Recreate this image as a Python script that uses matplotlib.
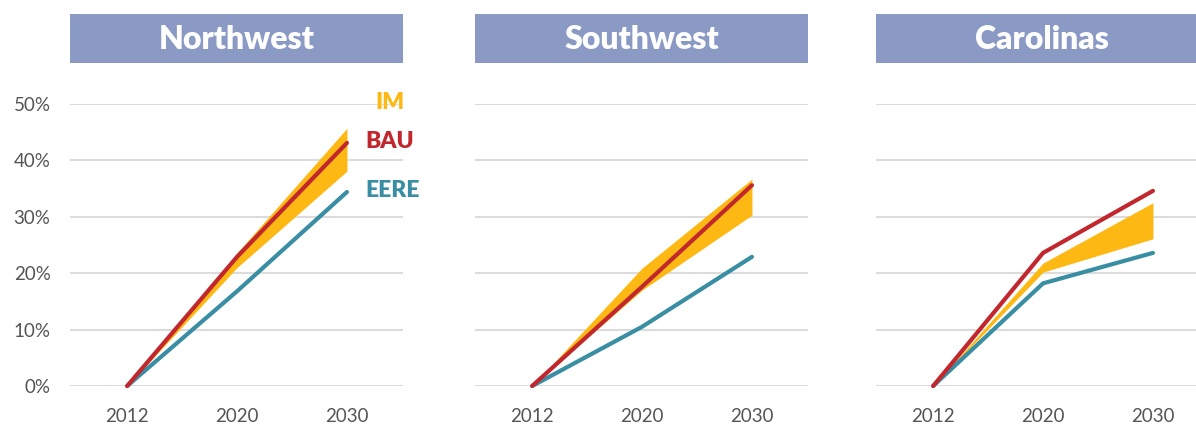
import matplotlib
matplotlib.use('Agg')
import matplotlib.pyplot as plt

# data (share of generation, %)
years = ['2012', '2020', '2030']
regions = ['Northwest', 'Southwest', 'Carolinas']

bau = {
    'Northwest': [0, 22.9, 43.1],
    'Southwest': [0, 17.6, 35.6],
    'Carolinas': [0, 23.6, 34.6],
}
eere = {
    'Northwest': [0, 16.8, 34.4],
    'Southwest': [0, 10.5, 22.9],
    'Carolinas': [0, 18.2, 23.6],
}
im_high = {
    'Northwest': [0, 23.6, 45.7],
    'Southwest': [0, 20.9, 36.7],
    'Carolinas': [0, 21.8, 32.5],
}
im_low = {
    'Northwest': [0, 21.0, 38.1],
    'Southwest': [0, 17.0, 30.3],
    'Carolinas': [0, 20.2, 26.1],
}
yticks = [0, 10, 20, 30, 40, 50]

GOLD = '#FDB813'
RED = '#C1272D'
TEAL = '#3A8EA3'
BOX = '#8A9AC5'
GRID = '#DCDCDC'
TICK = '#555555'

plt.rcParams['font.family'] = ['Lato', 'DejaVu Sans']

fig = plt.figure(figsize=(11.96, 4.26), dpi=100)

lefts = [70 / 1196, 475 / 1196, 876 / 1196]
width = 333 / 1196
bottom = (426 - 386) / 426
height = 282 / 426
box_bottom = (426 - 63) / 426
box_height = 49 / 426

x = range(len(years))

for i, reg in enumerate(regions):
    ax = fig.add_axes([lefts[i], bottom, width, height])
    ax.fill_between(x, im_low[reg], im_high[reg], color=GOLD, lw=0, zorder=2)
    ax.plot(x, eere[reg], color=TEAL, lw=3, solid_capstyle='round', clip_on=False, zorder=3)
    ax.plot(x, bau[reg], color=RED, lw=3, solid_capstyle='round', clip_on=False, zorder=4)

    ax.set_xlim(-0.52, 2.51)
    ax.set_ylim(0, 50)
    ax.set_yticks(yticks)
    ax.set_xticks(list(x))
    ax.set_xticklabels(years)
    ax.grid(axis='y', color=GRID, lw=1.5, zorder=0)
    ax.set_axisbelow(True)
    for s in ax.spines.values():
        s.set_visible(False)
    ax.tick_params(length=0, labelsize=13.5, colors=TICK)
    ax.tick_params(axis='x', pad=16)
    ax.tick_params(axis='y', pad=14)
    if i == 0:
        ax.set_yticklabels([f'{v}%' for v in yticks])
        ax.text(2.26, 50.3, 'IM', color=GOLD, fontsize=16.5, fontweight='heavy',
                va='center', ha='left', clip_on=False)
        ax.text(2.17, 43.3, 'BAU', color=RED, fontsize=16.5, fontweight='heavy',
                va='center', ha='left', clip_on=False)
        ax.text(2.17, 34.6, 'EERE', color=TEAL, fontsize=16.5, fontweight='heavy',
                va='center', ha='left', clip_on=False)
    else:
        ax.set_yticklabels([])

    # title box
    tb = fig.add_axes([lefts[i], box_bottom, width, box_height])
    tb.set_facecolor(BOX)
    tb.set_xticks([])
    tb.set_yticks([])
    for s in tb.spines.values():
        s.set_visible(False)
    tb.text(0.5, 0.48, reg, color='white', fontsize=23, fontweight='heavy',
            ha='center', va='center', transform=tb.transAxes)

fig.savefig('out.png', dpi=100)
